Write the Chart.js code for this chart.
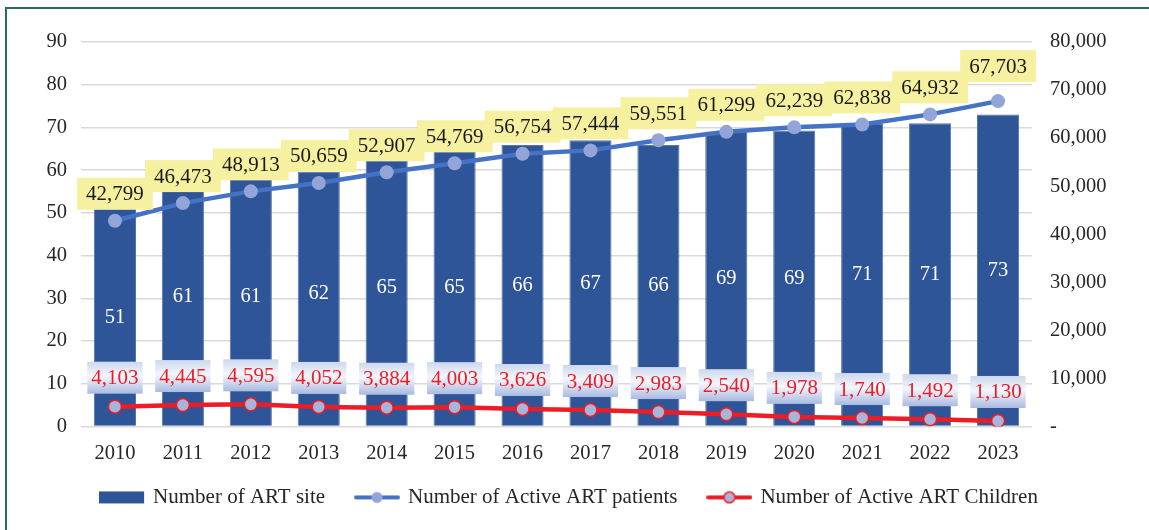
<!DOCTYPE html>
<html>
<head>
<meta charset="utf-8">
<script src="https://cdn.jsdelivr.net/npm/chart.js@4.4.1/dist/chart.umd.min.js"></script>
<style>
  body { margin: 0; background: #fff; }
  #wrap { position: relative; width: 1149px; height: 530px; }
  #frame { position: absolute; left: 5px; top: 7px; right: 0; bottom: 0;
           border-top: 2px solid #2b6d58; border-left: 2px solid #2b6d58; }
  canvas { position: absolute; left: 0; top: 0; }
</style>
</head>
<body>
<div id="wrap">
  <div id="frame"></div>
  <canvas id="art"></canvas>
</div>
<script>
// data
var years = ['2010','2011','2012','2013','2014','2015','2016','2017','2018','2019','2020','2021','2022','2023'];
var siteBars = [51, 55.3, 57.9, 59.7, 62.3, 64.4, 65.9, 67, 65.9, 69, 69.3, 70.8, 71, 73];
var siteLabels = [51, 61, 61, 62, 65, 65, 66, 67, 66, 69, 69, 71, 71, 73];
var patients = [42799, 46473, 48913, 50659, 52907, 54769, 56754, 57444, 59551, 61299, 62239, 62838, 64932, 67703];
var children = [4103, 4445, 4595, 4052, 3884, 4003, 3626, 3409, 2983, 2540, 1978, 1740, 1492, 1130];

var serif = '"Liberation Serif", "Times New Roman", serif';
var barBlue = '#2e5597';
var lineBlue = '#4472c4';
var dotBlue = '#93a5d8';
var red = '#ee1c25';

function fmt(n) { return n.toLocaleString('en-US'); }

// little pictures for the legend
function legendImg(kind) {
    var c = document.createElement('canvas');
    c.width = 46; c.height = 14;
    var g = c.getContext('2d');
    if (kind == 'bar') {
        g.fillStyle = barBlue;
        g.fillRect(0, 1, 45, 12);
    } else {
        g.strokeStyle = kind == 'red' ? red : lineBlue;
        g.lineWidth = 4;
        g.lineCap = 'round';
        g.beginPath(); g.moveTo(2, 7); g.lineTo(44, 7); g.stroke();
        g.beginPath(); g.arc(23, 7, 5.5, 0, Math.PI * 2);
        g.fillStyle = kind == 'red' ? '#a9b4da' : dotBlue;
        g.fill();
        if (kind == 'red') { g.lineWidth = 1.5; g.strokeStyle = red; g.stroke(); }
    }
    return c;
}
var legendImgs = [legendImg('bar'), legendImg('blue'), legendImg('red')];

var labelPlugin = {
    id: 'boxLabels',
    afterDatasetsDraw: function(chart) {
        var ctx = chart.ctx;
        var yL = chart.scales.y;
        var bars = chart.getDatasetMeta(0).data;
        var pts = chart.getDatasetMeta(1).data;
        var kids = chart.getDatasetMeta(2).data;
        ctx.save();
        ctx.textAlign = 'center';
        ctx.textBaseline = 'middle';

        // site numbers inside bars
        ctx.font = '20.5px ' + serif;
        ctx.fillStyle = '#ffffff';
        for (var i = 0; i < bars.length; i++) {
            var yc = (yL.getPixelForValue(siteLabels[i]) + yL.getPixelForValue(0)) / 2;
            ctx.fillText(String(siteLabels[i]), bars[i].x, yc);
        }

        ctx.font = '21px ' + serif;
        // patients, yellow boxes
        for (var j = 0; j < pts.length; j++) {
            var t = fmt(patients[j]);
            var w = ctx.measureText(t).width + 18;
            var bottom = pts[j].y - 11;
            if (j == pts.length - 1) bottom -= 8;
            ctx.fillStyle = '#f6f1a0';
            ctx.fillRect(pts[j].x - w / 2, bottom - 32, w, 32);
            ctx.fillStyle = '#1a1a1a';
            ctx.fillText(t, pts[j].x, bottom - 15);
        }

        // children, bluish boxes
        for (var k = 0; k < kids.length; k++) {
            var s = fmt(children[k]);
            var w2 = ctx.measureText(s).width + 8;
            var b2 = kids[k].y - 13;
            var grd = ctx.createLinearGradient(0, b2 - 32, 0, b2);
            grd.addColorStop(0, '#cdd8ee');
            grd.addColorStop(0.45, '#f4f6fb');
            grd.addColorStop(1, '#a9bbe2');
            ctx.fillStyle = grd;
            ctx.fillRect(kids[k].x - w2 / 2, b2 - 32, w2, 32);
            ctx.fillStyle = red;
            ctx.fillText(s, kids[k].x, b2 - 15);
        }
        ctx.restore();
    }
};

// legend row under the axis: swatch, then the dataset label
var legendPlugin = {
    id: 'bottomLegend',
    afterDraw: function(chart) {
        var ctx = chart.ctx;
        var sets = chart.data.datasets;
        ctx.save();
        ctx.font = '21px ' + serif;
        ctx.textBaseline = 'middle';
        ctx.textAlign = 'left';
        ctx.fillStyle = '#262626';
        var gap = 29, swatch = 45, textGap = 9;
        var widths = sets.map(function(d) { return swatch + textGap + ctx.measureText(d.label).width; });
        var total = widths.reduce(function(a, b) { return a + b; }, 0) + gap * (sets.length - 1);
        var x = chart.width / 2 - 6 - total / 2;
        var y = chart.chartArea.bottom + 71;
        sets.forEach(function(d, i) {
            ctx.drawImage(legendImgs[i], x, y - 7);
            ctx.fillText(d.label, x + swatch + textGap, y);
            x += widths[i] + gap;
        });
        ctx.restore();
    }
};

var ctxArt = document.getElementById('art');
ctxArt.width = 1149; ctxArt.height = 530;

var chart = new Chart(ctxArt, {
    type: 'bar',
    data: {
        labels: years,
        datasets: [
            {
                type: 'bar',
                label: 'Number of ART site',
                data: siteBars,
                yAxisID: 'y',
                backgroundColor: barBlue,
                borderColor: '#5576b0',
                borderWidth: 1,
                barPercentage: 0.62,
                categoryPercentage: 1,
                order: 3
            },
            {
                type: 'line',
                label: 'Number of Active ART patients',
                data: patients,
                yAxisID: 'y1',
                borderColor: lineBlue,
                borderWidth: 4.5,
                pointRadius: 7,
                pointBackgroundColor: dotBlue,
                pointBorderColor: dotBlue,
                pointBorderWidth: 0,
                tension: 0,
                order: 1
            },
            {
                type: 'line',
                label: 'Number of Active ART Children',
                data: children,
                yAxisID: 'y1',
                borderColor: red,
                borderWidth: 4.5,
                pointRadius: 6.5,
                pointBackgroundColor: '#a9b4da',
                pointBorderColor: red,
                pointBorderWidth: 1.5,
                tension: 0,
                order: 2
            }
        ]
    },
    options: {
        responsive: false,
        animation: false,
        layout: { padding: { top: 42, bottom: 57, left: 0, right: 0 } },
        scales: {
            x: {
                grid: { display: false },
                border: { display: false },
                ticks: { color: '#262626', font: { family: serif, size: 20.5 }, padding: 7 }
            },
            y: {
                position: 'left',
                min: 0, max: 90,
                ticks: { stepSize: 10, color: '#262626', font: { family: serif, size: 20.5 }, padding: 14 },
                grid: { color: '#d9d9d9', lineWidth: 1.5, drawTicks: false },
                border: { display: false },
                afterFit: function(scale) { scale.width = 81; }
            },
            y1: {
                position: 'right',
                min: 0, max: 80000,
                ticks: {
                    stepSize: 10000, color: '#262626', font: { family: serif, size: 20.5 }, padding: 18,
                    callback: function(v) { return v == 0 ? '-' : fmt(v); }
                },
                grid: { display: false, drawTicks: false },
                border: { display: false },
                afterFit: function(scale) { scale.width = 117; }
            }
        },
        plugins: {
            tooltip: { enabled: false },
            legend: { display: false }
        }
    },
    plugins: [labelPlugin, legendPlugin]
});
</script>
</body>
</html>
